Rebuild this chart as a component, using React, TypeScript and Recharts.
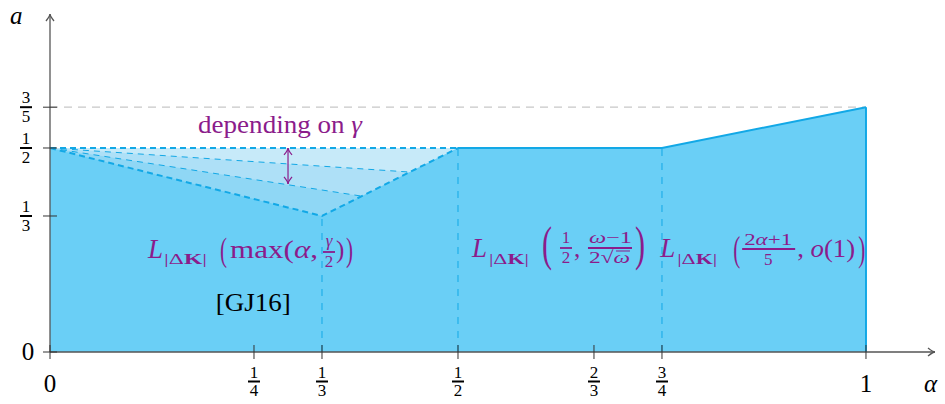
import { Area, ComposedChart, Line, ReferenceDot, ReferenceLine, XAxis, YAxis } from "recharts"

const X_MAX = 1.0846
const Y_MAX = 0.8284

const xTicks = [0, 1 / 4, 1 / 3, 1 / 2, 2 / 3, 3 / 4, 1]
const xTickLabels = ["0", "1/4", "1/3", "1/2", "2/3", "3/4", "1"]
const yTicks = [0, 1 / 3, 1 / 2, 3 / 5]
const yTickLabels = ["0", "1/3", "1/2", "3/5"]

// upper edge of the shaded region
const boundary = [
  { x: 0, y: 1 / 2 },
  { x: 1 / 3, y: 1 / 3 },
  { x: 1 / 2, y: 1 / 2 },
  { x: 3 / 4, y: 1 / 2 },
  { x: 1, y: 3 / 5 },
]
const dashedEdge = boundary.slice(0, 3)
const solidEdge = boundary.slice(2)

// gamma dependent family inside the V
const gammaTop = [
  { x: 0, y: 1 / 2 },
  { x: 1 / 2, y: 1 / 2 },
]
const gammaMid = [
  { x: 0, y: 1 / 2 },
  { x: 0.441, y: 0.441 },
  { x: 1 / 2, y: 1 / 2 },
]
const gammaLow = [
  { x: 0, y: 1 / 2 },
  { x: 0.382, y: 0.382 },
  { x: 1 / 2, y: 1 / 2 },
]
const dropLines = [
  { x: 1 / 3, y: 1 / 3 },
  { x: 1 / 2, y: 1 / 2 },
  { x: 3 / 4, y: 1 / 2 },
]

const FONT = "Liberation Serif"
const BLUE = "#12a8e6"
const FILL = "#6acff6"
const PURPLE = "#8b1c8b"
const AXIS = "#555"
const fs = { fontFamily: FONT }

const findIdx = (arr: number[], v: number) => arr.findIndex((t) => Math.abs(t - v) < 1e-6)

function XTick(p: any) {
  const { x, y, payload } = p
  const lab = xTickLabels[findIdx(xTicks, payload.value)] ?? ""
  const [n, d] = lab.split("/")
  return (
    <g style={fs}>
      <line x1={x} x2={x} y1={y - 7} y2={y + 7} stroke="#333" strokeWidth={1} />
      {d ? (
        <>
          <text x={x} y={y + 26} textAnchor="middle" fontSize={17} style={fs}>{n}</text>
          <line x1={x - 6} x2={x + 6} y1={y + 29.5} y2={y + 29.5} stroke="#000" strokeWidth={2} />
          <text x={x} y={y + 44} textAnchor="middle" fontSize={17} style={fs}>{d}</text>
        </>
      ) : (
        <text x={x} y={y + 40} textAnchor="middle" fontSize={25} style={fs}>{n}</text>
      )}
    </g>
  )
}

function YTick(p: any) {
  const { x, y, payload } = p
  const lab = yTickLabels[findIdx(yTicks, payload.value)] ?? ""
  const [n, d] = lab.split("/")
  return (
    <g style={fs}>
      <line x1={x - 7} x2={x + 7} y1={y} y2={y} stroke="#333" strokeWidth={1} />
      {d ? (
        <>
          <text x={x - 24} y={y - 4} textAnchor="middle" fontSize={17} style={fs}>{n}</text>
          <line x1={x - 30} x2={x - 18} y1={y} y2={y} stroke="#000" strokeWidth={2} />
          <text x={x - 24} y={y + 15} textAnchor="middle" fontSize={17} style={fs}>{d}</text>
        </>
      ) : (
        <text x={x - 22} y={y + 8} textAnchor="middle" fontSize={25} style={fs}>{n}</text>
      )}
    </g>
  )
}

const head = (x: number, y: number, ang: number, color: string, w: number) => {
  const l = 7
  const s = 4
  const ca = Math.cos(ang)
  const sa = Math.sin(ang)
  const bx = x - l * ca
  const by = y - l * sa
  return (
    <path
      d={`M${bx - s * sa},${by + s * ca} Q${x - 2 * ca},${y - 2 * sa} ${x},${y} Q${x - 2 * ca},${y - 2 * sa} ${bx + s * sa},${by - s * ca}`}
      fill="none"
      stroke={color}
      strokeWidth={w}
    />
  )
}

const arrow = (color: string, w: number, both: boolean) => (p: any) => {
  const { x1, y1, x2, y2 } = p
  const ang = Math.atan2(y2 - y1, x2 - x1)
  return (
    <g>
      <line x1={x1} y1={y1} x2={x2} y2={y2} stroke={color} strokeWidth={w} />
      {head(x2, y2, ang, color, w)}
      {both && head(x1, y1, ang + Math.PI, color, w)}
    </g>
  )
}

const T = (props: any) => <text style={fs} {...props} />

const Sub = ({ x, y, w }: { x: number; y: number; w: number }) => (
  <T x={x} y={y} fontSize={15} textLength={w} lengthAdjust="spacingAndGlyphs">
    |Δ<tspan fontWeight="bold">K</tspan>|
  </T>
)

function LabelMax(p: any) {
  const { cx, cy } = p
  return (
    <g fill={PURPLE}>
      <T x={cx - 106} y={cy + 8} fontSize={27} fontStyle="italic">L</T>
      <Sub x={cx - 90} y={cy + 14} w={43} />
      <T x={cx - 34} y={cy + 11} fontSize={33} textLength={7} lengthAdjust="spacingAndGlyphs">(</T>
      <T x={cx - 24} y={cy + 8} fontSize={25} textLength={88} lengthAdjust="spacingAndGlyphs">
        max(<tspan fontStyle="italic">α</tspan>,
      </T>
      <T x={cx + 75} y={cy - 4} fontSize={17} fontStyle="italic" textAnchor="middle">γ</T>
      <line x1={cx + 69} x2={cx + 81} y1={cy + 2} y2={cy + 2} stroke={PURPLE} strokeWidth={1.8} />
      <T x={cx + 75} y={cy + 17} fontSize={17} textAnchor="middle">2</T>
      <T x={cx + 82} y={cy + 8} fontSize={25}>)</T>
      <T x={cx + 92} y={cy + 11} fontSize={33} textLength={7} lengthAdjust="spacingAndGlyphs">)</T>
    </g>
  )
}

function LabelHalf(p: any) {
  const { cx, cy } = p
  return (
    <g fill={PURPLE}>
      <T x={cx - 88} y={cy + 7} fontSize={27} fontStyle="italic">L</T>
      <Sub x={cx - 71} y={cy + 14} w={40} />
      <T x={cx - 18} y={cy + 10} fontSize={48} textLength={10} lengthAdjust="spacingAndGlyphs">(</T>
      <T x={cx + 6} y={cy - 7} fontSize={17} textAnchor="middle">1</T>
      <line x1={cx} x2={cx + 12} y1={cy - 2} y2={cy - 2} stroke={PURPLE} strokeWidth={1.8} />
      <T x={cx + 6} y={cy + 13} fontSize={17} textAnchor="middle">2</T>
      <T x={cx + 14} y={cy + 7} fontSize={25}>,</T>
      <T x={cx + 29} y={cy - 7} fontSize={17} textLength={43} lengthAdjust="spacingAndGlyphs">
        <tspan fontStyle="italic">ω</tspan>−1
      </T>
      <line x1={cx + 28} x2={cx + 72} y1={cy - 2} y2={cy - 2} stroke={PURPLE} strokeWidth={1.8} />
      <T x={cx + 29} y={cy + 13} fontSize={17} textLength={41} lengthAdjust="spacingAndGlyphs">
        2√<tspan fontStyle="italic">ω</tspan>
      </T>
      <line x1={cx + 56} x2={cx + 70} y1={cy + 1} y2={cy + 1} stroke={PURPLE} strokeWidth={1} />
      <T x={cx + 75} y={cy + 10} fontSize={48} textLength={10} lengthAdjust="spacingAndGlyphs">)</T>
    </g>
  )
}

function LabelFifth(p: any) {
  const { cx, cy } = p
  return (
    <g fill={PURPLE}>
      <T x={cx - 103} y={cy + 7} fontSize={27} fontStyle="italic">L</T>
      <Sub x={cx - 86} y={cy + 14} w={40} />
      <T x={cx - 30} y={cy + 11} fontSize={36} textLength={7} lengthAdjust="spacingAndGlyphs">(</T>
      <T x={cx + 5} y={cy - 5} fontSize={17} textAnchor="middle" textLength={48} lengthAdjust="spacingAndGlyphs">
        2<tspan fontStyle="italic">α</tspan>+1
      </T>
      <line x1={cx - 21} x2={cx + 32} y1={cy - 1} y2={cy - 1} stroke={PURPLE} strokeWidth={1.8} />
      <T x={cx + 5} y={cy + 15} fontSize={17} textAnchor="middle">5</T>
      <T x={cx + 34} y={cy + 7} fontSize={25} textLength={58} lengthAdjust="spacingAndGlyphs">
        , <tspan fontStyle="italic">o</tspan>(1)
      </T>
      <T x={cx + 95} y={cy + 11} fontSize={36} textLength={7} lengthAdjust="spacingAndGlyphs">)</T>
    </g>
  )
}

function Depending(p: any) {
  return (
    <T x={p.cx} y={p.cy + 5} fontSize={25} fill={PURPLE} textAnchor="middle" textLength={164} lengthAdjust="spacingAndGlyphs">
      depending on <tspan fontStyle="italic">γ</tspan>
    </T>
  )
}

function Cite(p: any) {
  return (
    <T x={p.cx} y={p.cy + 10} fontSize={25} fill="#000" textAnchor="middle" textLength={75} lengthAdjust="spacingAndGlyphs">
      [GJ16]
    </T>
  )
}

const axisLabel = (t: string, dx: number, dy: number) => (p: any) => (
  <T x={p.cx + dx} y={p.cy + dy} fontSize={25} fontStyle="italic" fill="#000">
    {t}
  </T>
)

const series = { isAnimationActive: false, dot: false, activeDot: false, dataKey: "y" } as const

export default function App() {
  return (
    <div style={{ position: "absolute", left: 0, top: 0, background: "#fff" }}>
      <ComposedChart width={945} height={404} margin={{ top: 14, right: 10, bottom: 0, left: 0 }}>
        <XAxis
          type="number"
          dataKey="x"
          domain={[0, X_MAX]}
          ticks={xTicks}
          interval={0}
          tick={XTick}
          tickSize={0}
          tickMargin={0}
          tickLine={false}
          axisLine={false}
          height={52}
          allowDataOverflow
        />
        <YAxis
          type="number"
          dataKey="y"
          domain={[0, Y_MAX]}
          ticks={yTicks}
          interval={0}
          tick={YTick}
          tickSize={0}
          tickMargin={0}
          tickLine={false}
          axisLine={false}
          width={50}
          allowDataOverflow
        />
        <ReferenceLine
          segment={[{ x: 0, y: 3 / 5 }, { x: 1, y: 3 / 5 }]}
          stroke="#c8c8c8"
          strokeWidth={1.3}
          strokeDasharray="8 6"
        />
        <Area {...series} data={gammaTop} type="linear" fill="#c7eaf9" fillOpacity={1} stroke="none" />
        <Area {...series} data={gammaMid} type="linear" fill="#aee0f7" fillOpacity={1} stroke="none" />
        <Area {...series} data={gammaLow} type="linear" fill="#8fd7f5" fillOpacity={1} stroke="none" />
        <Area {...series} data={boundary} type="linear" fill={FILL} fillOpacity={1} stroke="none" />
        {dropLines.map((d) => (
          <ReferenceLine
            key={d.x}
            segment={[{ x: d.x, y: 0 }, { x: d.x, y: d.y }]}
            stroke={BLUE}
            strokeWidth={1}
            strokeDasharray="7 7"
          />
        ))}
        <Line {...series} data={gammaMid.slice(0, 2)} type="linear" stroke={BLUE} strokeWidth={1} strokeDasharray="6 5" />
        <Line {...series} data={gammaLow.slice(0, 2)} type="linear" stroke={BLUE} strokeWidth={1} strokeDasharray="6 5" />
        <Line {...series} data={gammaTop} type="linear" stroke={BLUE} strokeWidth={2} strokeDasharray="6 4" />
        <Line {...series} data={dashedEdge} type="linear" stroke={BLUE} strokeWidth={2} strokeDasharray="6 4" />
        <Line {...series} data={solidEdge} type="linear" stroke={BLUE} strokeWidth={2} />
        <ReferenceLine segment={[{ x: 1, y: 0 }, { x: 1, y: 3 / 5 }]} stroke={BLUE} strokeWidth={2} />
        <ReferenceLine
          segment={[{ x: 0, y: 0 }, { x: X_MAX, y: 0 }]}
          shape={arrow(AXIS, 1.3, false)}
          ifOverflow="visible"
        />
        <ReferenceLine
          segment={[{ x: 0, y: 0 }, { x: 0, y: Y_MAX }]}
          shape={arrow(AXIS, 1.3, false)}
          ifOverflow="visible"
        />
        <ReferenceLine
          segment={[{ x: 0.2917, y: 0.412 }, { x: 0.2917, y: 0.5 }]}
          shape={arrow(PURPLE, 1.2, true)}
          ifOverflow="visible"
        />
        <ReferenceDot x={0.2819} y={0.55} r={0} shape={Depending} ifOverflow="visible" />
        <ReferenceDot x={0.25} y={0.25} r={0} shape={LabelMax} ifOverflow="visible" />
        <ReferenceDot x={0.625} y={0.25} r={0} shape={LabelHalf} ifOverflow="visible" />
        <ReferenceDot x={0.874} y={0.25} r={0} shape={LabelFifth} ifOverflow="visible" />
        <ReferenceDot x={0.249} y={0.125} r={0} shape={Cite} ifOverflow="visible" />
        <ReferenceDot x={0} y={Y_MAX} r={0} shape={axisLabel("a", -40, 10)} ifOverflow="visible" />
        <ReferenceDot x={X_MAX} y={0} r={0} shape={axisLabel("α", -11, 40)} ifOverflow="visible" />
      </ComposedChart>
    </div>
  )
}
